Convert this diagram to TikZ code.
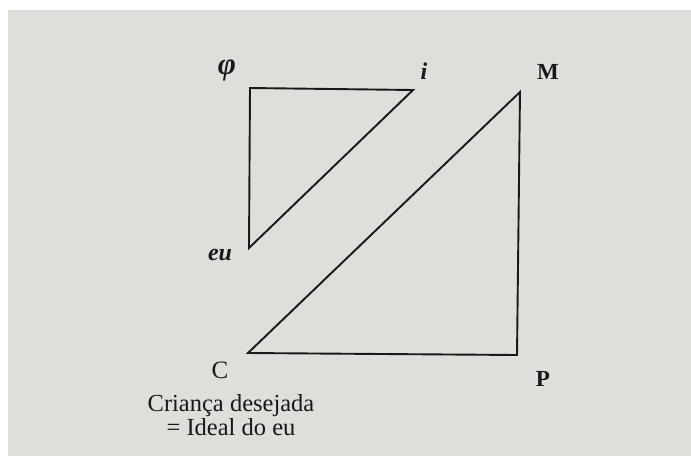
\documentclass[tikz,border=0pt]{standalone}
\usepackage{fontspec}
\setmainfont{Liberation Serif}
\usepackage{tikz}
\usetikzlibrary{positioning}
\usepackage{xcolor}
\definecolor{pagegrey}{RGB}{222,222,218}
\definecolor{inkdark}{RGB}{25,25,25}
\tikzset{
  schemaline/.style={draw=inkdark, line width=1.9pt, line join=miter},
  vertexlbl/.style={text=inkdark, inner sep=0pt, font=\fontsize{24}{26}\selectfont\bfseries\itshape},
  cornerlbl/.style={text=inkdark, inner sep=0pt, font=\fontsize{23}{26}\selectfont\bfseries}
}

\begin{document}
\begin{tikzpicture}[x=1pt, y=-1pt]%
      \useasboundingbox (0,0) rectangle (691,456);
      \fill[white] (0,0) rectangle (691,456);
      \fill[pagegrey] (8,10) rectangle (691,456);
      % corners of the schema
      \coordinate (phi) at (250,88);
      \coordinate (i)   at (413,90);
      \coordinate (eu)  at (249,248);
      \coordinate (M)   at (520,92);
      \coordinate (P)   at (517,355);
      \coordinate (C)   at (248,353);
      % upper triangle
      \draw[schemaline] (eu) -- (phi) -- (i) -- cycle;
      % lower triangle
      \draw[schemaline] (M) -- (C) -- (P) -- cycle;
      % labels
      \node[vertexlbl, font=\fontsize{31}{32}\selectfont\bfseries\itshape]
        (lblphi) at (227,70) {φ};
      \node[vertexlbl] (lbli)   at (424,71) {i};
      \node[vertexlbl] (lbleu)  at (220,255) {eu};
      \node[cornerlbl] (lblM)   at (548,72) {M};
      \node[cornerlbl] (lblP)   at (543,379) {P};
      \node[text=inkdark, inner sep=0pt, font=\fontsize{25}{26}\selectfont]
        (lblC) at (220,370) {C};
      \node[text=inkdark, inner sep=0pt, align=center,
            font=\fontsize{24.5}{23.5}\selectfont]
        (caption) at (231,415) {Criança desejada\\ = Ideal do eu};
    \end{tikzpicture}
\end{document}
